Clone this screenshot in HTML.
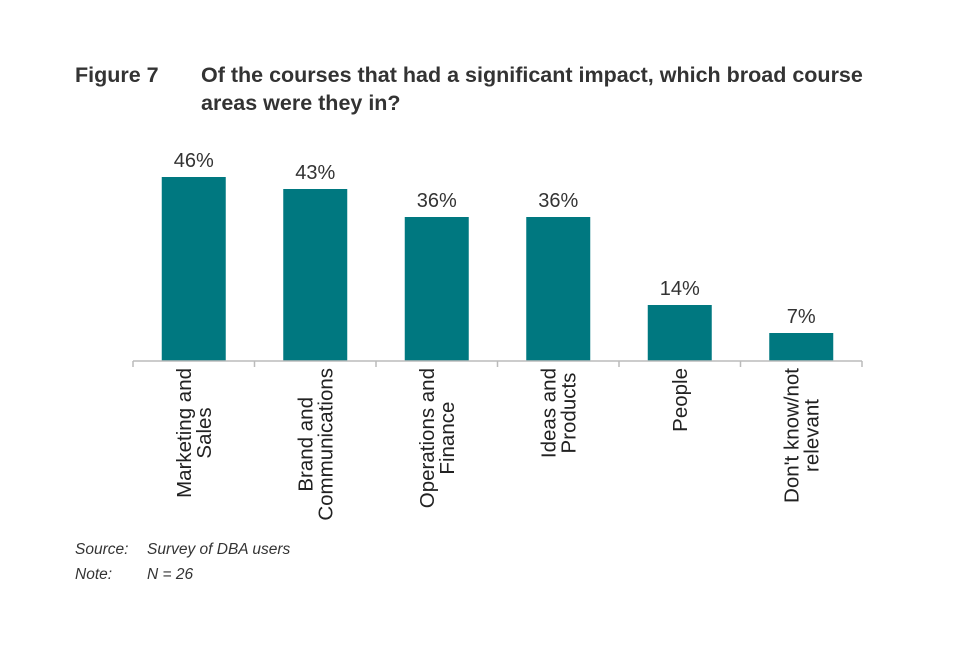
<!DOCTYPE html>
<html><head><meta charset="utf-8"><style>
body{margin:0;background:#fff;width:960px;height:640px;overflow:hidden;font-family:"Liberation Sans",Arial,sans-serif;}
</style></head><body>
<svg width="960" height="640" xmlns="http://www.w3.org/2000/svg">
<text x="75" y="82" font-size="21.5" font-weight="bold" fill="#333">Figure 7</text>
<text x="201" y="82" font-size="21.5" font-weight="bold" fill="#333">Of the courses that had a significant impact, which broad course</text>
<text x="201" y="110" font-size="21.5" font-weight="bold" fill="#333">areas were they in?</text>
<g id="plot"></g>
<text x="75" y="554" font-size="15.5" font-style="italic" fill="#333">Source:</text>
<text x="147" y="554" font-size="15.5" font-style="italic" fill="#333">Survey of DBA users</text>
<text x="75" y="579" font-size="15.5" font-style="italic" fill="#333">Note:</text>
<text x="147" y="579" font-size="15.5" font-style="italic" fill="#333">N = 26</text>
</svg>
<script>
const categories=[["Marketing and","Sales"],["Brand and","Communications"],["Operations and","Finance"],["Ideas and","Products"],["People"],["Don't know/not","relevant"]];
const values=[46,43,36,36,14,7];
const valueLabels=["46%","43%","36%","36%","14%","7%"];
const NS="http://www.w3.org/2000/svg";
const g=document.getElementById('plot');
const x0=133,x1=862,base=361,pxPer=4;
const band=(x1-x0)/categories.length;
const bw=64;
function xb(i){return x0+band*i+(band-bw)/2;}
function y(v){return base-v*pxPer;}
function mk(t,a){const e=document.createElementNS(NS,t);for(const k in a)e.setAttribute(k,a[k]);g.appendChild(e);return e;}
values.forEach((v,i)=>{
  const r=mk('rect',{x:xb(i),y:y(v),width:bw,height:base-y(v),fill:'#007880'});
  
  
  const t=mk('text',{x:xb(i)+bw/2,y:y(v)-10,'text-anchor':'middle','font-size':20,fill:'#333'});
  t.textContent=valueLabels[i];
  
  
  const cx=xb(i)+bw/2, lines=categories[i], lh=20;
  const els=lines.map((ln,j)=>{
    const tx=mk('text',{x:0,y:0,'text-anchor':'middle','font-size':20.5,fill:'#222'});
    tx.textContent=ln;
    
    
    return tx;
  });
  const maxL=Math.max(...els.map(e=>e.getComputedTextLength()));
  els.forEach((tx,j)=>{
    const off=(j-(lines.length-1)/2)*lh+7;
    tx.setAttribute('transform',`translate(${cx+off},${368+maxL/2}) rotate(-90)`);
  });
});
const ax=mk('line',{x1:x0,x2:x1,y1:base,y2:base,stroke:'#bbb','stroke-width':1.5});


for(let i=0;i<=categories.length;i++){
  const tk=mk('line',{x1:x0+band*i,x2:x0+band*i,y1:base,y2:base+6,stroke:'#bbb','stroke-width':1.5});
  
  
}
</script>
</body></html>
